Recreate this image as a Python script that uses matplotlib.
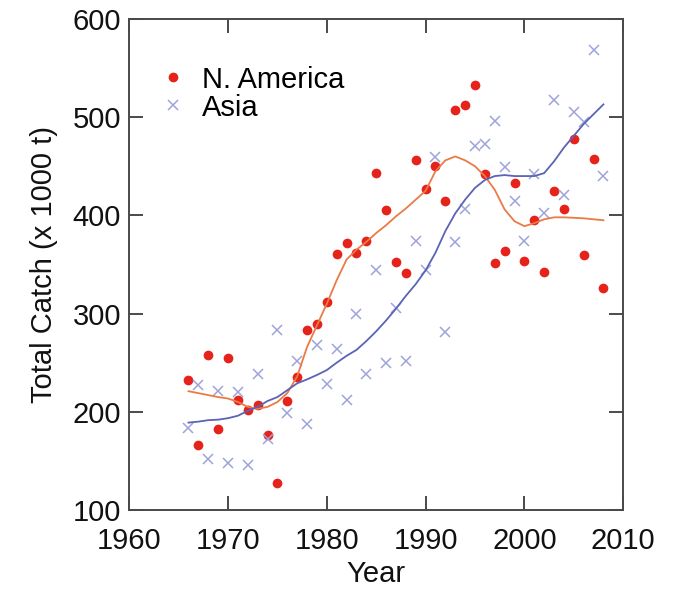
import numpy as np
import matplotlib
matplotlib.use("Agg")
from matplotlib import pyplot as plt

plt.rcParams['font.family'] = ['Liberation Sans', 'DejaVu Sans']

years = list(range(1966, 2009))

n_america = [232, 166, 258, 183, 255, 212, 202, 207, 176, 128,
             211, 235, 283, 289, 312, 361, 372, 362, 374, 443,
             405, 353, 341, 456, 427, 450, 415, 507, 512, 533,
             442, 351, 364, 433, 354, 395, 342, 425, 406, 478,
             360, 457, 326]

asia = [184, 227, 152, 221, 148, 220, 146, 238, 172, 283,
        199, 252, 188, 268, 228, 264, 212, 300, 238, 344,
        250, 306, 252, 374, 344, 459, 281, 373, 406, 471,
        473, 496, 449, 415, 374, 442, 402, 517, 421, 505,
        495, 568, 440]

# smoothed trend lines
n_america_fit = [221, 219, 217, 215, 213.5, 210, 205, 203, 205, 210,
                 219, 236, 266, 288, 310, 334, 355, 365, 373, 382,
                 390, 399, 407, 416, 425, 445, 456, 460, 456, 450,
                 440, 426, 406, 394, 389, 392, 396, 398, 398, 397.5,
                 397, 396, 395]

asia_fit = [189, 190, 191.5, 192, 193.5, 196, 201, 205, 211, 215,
            222, 229, 233, 237.5, 242.5, 250, 257, 263, 272, 282,
            293, 305, 318, 330, 344, 362, 384, 402, 416, 428,
            436, 440, 441, 440, 440, 440, 443, 455, 469, 481,
            493, 503, 513]

fig = plt.figure(figsize=(6.73, 5.91), dpi=100)
ax = fig.add_axes([0.192, 0.137, 0.734, 0.831])

ax.plot(years, n_america, 'o', color='#e5231b', markersize=7,
        markeredgewidth=0, label='N. America', zorder=2)
ax.plot(years, asia, 'x', color='#9ea3dc', markersize=7,
        markeredgewidth=1.1, label='Asia', zorder=2)
ax.plot(years, n_america_fit, '-', color='#ea7a46', linewidth=1.3, zorder=3)
ax.plot(years, asia_fit, '-', color='#5a63b5', linewidth=1.3, zorder=3)

ax.set_xlim(1960, 2010)
ax.set_ylim(100, 600)
ax.set_xticks(range(1960, 2011, 10))
ax.set_yticks(range(100, 601, 100))

for s in ax.spines.values():
    s.set_color('#4a4a4a')
    s.set_linewidth(1.4)
ax.tick_params(direction='in', top=True, right=True, length=10, width=1.4,
               color='#4a4a4a', labelsize=21, labelcolor='#111111')
ax.tick_params(axis='x', pad=12)
ax.tick_params(axis='y', pad=6)

ax.set_xlabel('Year', fontsize=21, color='#111111', labelpad=4)
ax.set_ylabel('Total Catch (x 1000 t)', fontsize=21, color='#111111', labelpad=10)

ax.legend(loc='upper left', bbox_to_anchor=(0.065, 0.905), frameon=False,
          fontsize=21, handlelength=0.8, handletextpad=0.6,
          labelspacing=0.0, borderpad=0, borderaxespad=0)

fig.savefig('out.png', dpi=100)
